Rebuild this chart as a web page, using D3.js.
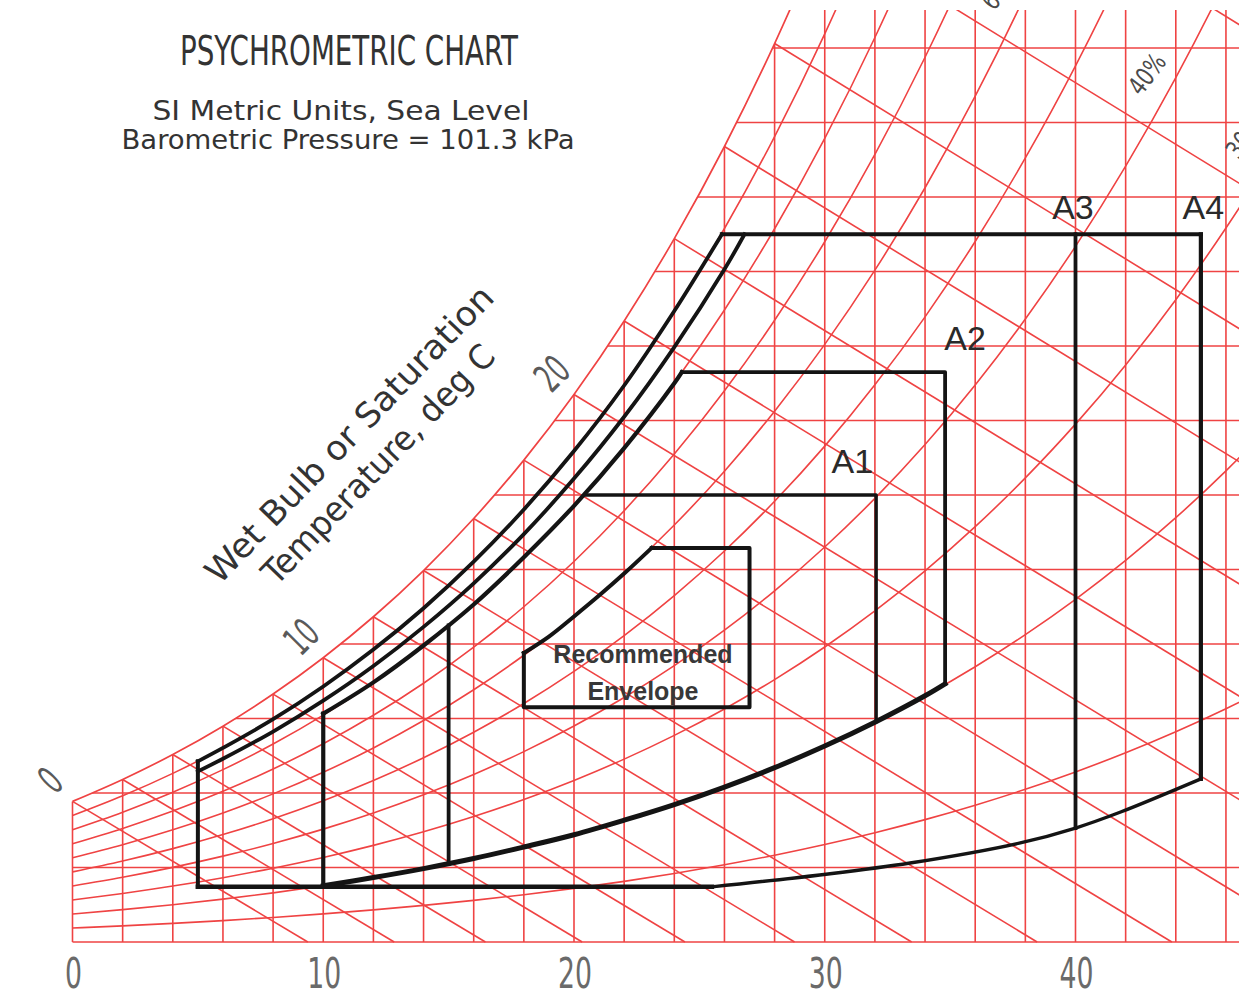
<!DOCTYPE html>
<html>
<head>
<meta charset="utf-8">
<script src="https://cdn.jsdelivr.net/npm/d3@7"></script>
<style>
  body { margin: 0; background: #fff; }
  svg { display: block; }
</style>
</head>
<body>
<svg id="chart"></svg>
<script>
const P_ATM = 101.325; // kPa, sea level

// saturation pressure of water (kPa) at 2 degC steps
const satTemps = [0, 2, 4, 6, 8, 10, 12, 14, 16, 18, 20, 22, 24, 26, 28, 30, 32, 34, 36, 38, 40, 42, 44, 46, 48, 50];
const satPressure = [0.6112, 0.7060, 0.8135, 0.9353, 1.0729, 1.2282, 1.4028, 1.5990, 1.8188, 2.0647, 2.3392, 2.6452, 2.9856,
                     3.3637, 3.7828, 4.2467, 4.7592, 5.3247, 5.9479, 6.6336, 7.3844, 8.2090, 9.1118, 10.0983, 11.1740, 12.3440];

const gridTemps = [0, 2, 4, 6, 8, 10, 12, 14, 16, 18, 20, 22, 24, 26, 28, 30, 32, 34, 36, 38, 40, 42, 44, 46];
const gridHumidity = [0, 2, 4, 6, 8, 10, 12, 14, 16, 18, 20, 22, 24];   // g/kg
const rhLevels = [10, 20, 30, 40, 50, 60, 70, 80, 90];
const wetBulbTemps = [0, 2, 4, 6, 8, 10, 12, 14, 16, 18, 20, 22, 24, 26, 28, 30, 32, 34];
const dryBulbTicks = [0, 10, 20, 30, 40];
const wetBulbLabels = [0, 10, 20];
const rhLabelText = ["60%", "40%", "30%"];
const rhLabelAt = [[37.0, 25.6], [42.85, 23.3], [46.75, 21.6]];   // [degC, g/kg]

// envelopes, [dry bulb degC, humidity ratio g/kg]
const recCurve = [[18, 7.76], [19, 8.2], [20, 8.74], [21, 9.3], [22, 9.89], [23.1, 10.58]];
const recBox = [[23.1, 10.58], [27, 10.58], [27, 6.3], [18, 6.3], [18, 7.76]];
const a1Left = [[15, 2.1], [15, 8.5]];
const a1Top = [[20.45, 12.0], [32.05, 12.0], [32.05, 5.92]];
const a2Left = [[10, 1.51], [10, 6.13]];
const a2Top = [[24.3, 15.3], [34.8, 15.3], [34.8, 6.93]];
const rh80Edge = [[10, 6.13], [12, 6.97], [14, 7.96], [16, 9.06], [18, 10.33], [20, 11.71], [22, 13.26], [24, 15.0], [24.3, 15.3]];
const rh20Edge = [[10, 1.51], [12, 1.73], [14, 1.97], [16, 2.24], [18, 2.55], [20, 2.88], [22, 3.27], [24, 3.69],
                  [26, 4.16], [28, 4.68], [30, 5.26], [32, 5.9], [34, 6.61], [34.8, 6.93]];
const a4Upper = [[5, 4.85], [6, 5.21], [8, 5.98], [10, 6.86], [12, 7.85], [14, 8.96], [16, 10.21], [18, 11.61],
                 [20, 13.18], [22, 14.94], [24, 16.94], [25.9, 19.0]];
const a3Upper = [[5, 4.58], [6, 4.92], [8, 5.65], [10, 6.48], [12, 7.41], [14, 8.46], [16, 9.63], [18, 10.95],
                 [20, 12.44], [22, 14.1], [24, 15.97], [26, 18.06], [26.8, 19.0]];
const a34Left = [[5, 1.48], [5, 4.85]];
const a34Top = [[25.9, 19.0], [45, 19.0]];
const a34Floor = [[5, 1.48], [25.5, 1.48]];
const a34Rise = [[25.5, 1.48], [29.8, 1.8], [33.4, 2.12], [37.8, 2.66], [40, 3.06], [41.8, 3.49], [45, 4.38]];
const a3Right = [[40, 19.0], [40, 3.06]];
const a4Right = [[45, 19.0], [45, 4.38]];

const classNames = ["A1", "A2", "A3", "A4"];
const classAt = [[31.1, 12.6], [35.6, 15.9], [39.9, 19.4], [45.1, 19.4]];

const RED = "#ef4343";
const INK = "#141414";

const svg = d3.select("#chart").attr("width", 1239).attr("height", 997);
const defs = svg.append("defs");

const x = d3.scaleLinear().domain([0, 40]).range([72.5, 1075.5]);
const y = d3.scaleLinear().domain([0, 24]).range([942, 48]);

// humidity ratio, g/kg
const hr = (ps, phi) => 621.945 * phi * ps / (P_ATM - phi * ps);
const satPoints = satTemps.map((t, i) => [t, hr(satPressure[i], 1)]);

const straight = d3.line().x(d => x(d[0])).y(d => y(d[1]));
const smooth = d3.line().x(d => x(d[0])).y(d => y(d[1])).curve(d3.curveMonotoneX);
const spline = d3.line().x(d => x(d[0])).y(d => y(d[1])).curve(d3.curveCatmullRom.alpha(0.5));

defs.append("clipPath").attr("id", "plot-clip")
  .append("rect")
  .attr("x", x(0) - 3).attr("y", 10)
  .attr("width", 1239).attr("height", y(0) + 3 - 10);

const satClip = defs.append("clipPath").attr("id", "sat-clip");
satClip.append("path")
  .attr("d", d3.area().x(d => x(d[0])).y0(y(0) + 2).y1(d => y(d[1])).curve(d3.curveMonotoneX)(satPoints));
satClip.append("rect")
  .attr("x", x(0) - 2).attr("y", y(satPoints[0][1]))
  .attr("width", 3).attr("height", y(0) - y(satPoints[0][1]) + 2);

const plot = svg.append("g").attr("clip-path", "url(#plot-clip)");
const grid = plot.append("g").attr("clip-path", "url(#sat-clip)")
  .attr("fill", "none").attr("stroke", RED).attr("stroke-width", 1.6);

// dry bulb verticals
grid.selectAll("line.db")
  .data(gridTemps)
  .join("line")
  .attr("class", "db")
  .attr("x1", d => x(d)).attr("x2", d => x(d))
  .attr("y1", y(0)).attr("y2", y(40));

// humidity ratio horizontals
grid.selectAll("line.hr")
  .data(gridHumidity)
  .join("line")
  .attr("class", "hr")
  .attr("x1", x(0)).attr("x2", x(50))
  .attr("y1", d => y(d)).attr("y2", d => y(d));

// relative humidity curves
grid.selectAll("path.rh")
  .data(rhLevels)
  .join("path")
  .attr("class", "rh")
  .attr("d", rh => smooth(satTemps.map((t, i) => [t, hr(satPressure[i], rh / 100)])));

// wet bulb lines: from saturation down to W = 0
grid.selectAll("path.wb")
  .data(wetBulbTemps)
  .join("path")
  .attr("class", "wb")
  .attr("d", twb => {
    const ws = hr(satPressure[satTemps.indexOf(twb)], 1);
    const t0 = twb + (2501 - 2.326 * twb) * (ws / 1000) / 1.006;
    return straight([[twb, ws], [t0, 0]]);
  });

// saturation curve
plot.append("path")
  .attr("d", smooth(satPoints))
  .attr("fill", "none").attr("stroke", RED).attr("stroke-width", 1.7);

// envelopes
const envelopeLines = [
  { pts: rh20Edge, path: spline, w: 5 },
  { pts: a34Floor, path: straight, w: 4.5 },
  { pts: a34Rise, path: spline, w: 3.4 },
  { pts: a34Left, path: straight, w: 4 },
  { pts: a4Upper, path: spline, w: 3.8 },
  { pts: a3Upper, path: spline, w: 3.8 },
  { pts: a34Top, path: straight, w: 4.2 },
  { pts: a3Right, path: straight, w: 3.8 },
  { pts: a4Right, path: straight, w: 4.2 },
  { pts: a2Left, path: straight, w: 4.2 },
  { pts: rh80Edge, path: spline, w: 4.2 },
  { pts: a2Top, path: straight, w: 3.8 },
  { pts: a1Left, path: straight, w: 3.8 },
  { pts: a1Top, path: straight, w: 3.4 },
  { pts: recCurve, path: spline, w: 4 },
  { pts: recBox, path: straight, w: 4 }
];

svg.append("g")
  .attr("fill", "none").attr("stroke", INK)
  .attr("stroke-linejoin", "round").attr("stroke-linecap", "square")
  .selectAll("path")
  .data(envelopeLines)
  .join("path")
  .attr("d", d => d.path(d.pts))
  .attr("stroke-width", d => d.w);

// text
const CAD = "'DejaVu Sans Condensed', 'DejaVu Sans', sans-serif";

svg.append("g")
  .selectAll("text")
  .data(dryBulbTicks)
  .join("text")
  .attr("x", d => x(d) + 1).attr("y", 988)
  .attr("text-anchor", "middle")
  .attr("font-family", CAD).attr("font-size", 43).attr("fill", "#6a6a6a")
  .attr("textLength", d => String(d).length * 17).attr("lengthAdjust", "spacingAndGlyphs")
  .text(d => d);

svg.append("g")
  .selectAll("text")
  .data(wetBulbLabels)
  .join("text")
  .attr("transform", d => {
    const ws = hr(satPressure[satTemps.indexOf(d)], 1);
    return `translate(${x(d) - 22},${y(ws) - 21}) rotate(-45)`;
  })
  .attr("text-anchor", "middle").attr("dominant-baseline", "central")
  .attr("font-family", CAD).attr("font-size", 40).attr("fill", "#5a5a5a")
  .attr("textLength", d => String(d).length * 15).attr("lengthAdjust", "spacingAndGlyphs")
  .text(d => d);

svg.append("g")
  .selectAll("text")
  .data(rhLabelText)
  .join("text")
  .attr("transform", (d, i) => `translate(${x(rhLabelAt[i][0])},${y(rhLabelAt[i][1])}) rotate(-53)`)
  .attr("text-anchor", "middle").attr("dominant-baseline", "central")
  .attr("font-family", CAD).attr("font-size", 26).attr("fill", "#4a4a4a")
  .attr("textLength", 44).attr("lengthAdjust", "spacingAndGlyphs")
  .text(d => d);

const axisTitle = svg.append("g")
  .attr("font-family", CAD).attr("font-size", 34).attr("fill", "#333")
  .attr("text-anchor", "middle").attr("dominant-baseline", "central");
axisTitle.append("text")
  .attr("transform", "translate(349,434) rotate(-46)")
  .attr("textLength", 398).attr("lengthAdjust", "spacingAndGlyphs")
  .text("Wet Bulb or Saturation");
axisTitle.append("text")
  .attr("transform", "translate(378,464) rotate(-46)")
  .attr("textLength", 318).attr("lengthAdjust", "spacingAndGlyphs")
  .text("Temperature, deg C");

const header = svg.append("g")
  .attr("font-family", CAD).attr("fill", "#333").attr("text-anchor", "middle");
header.append("text")
  .attr("x", 349).attr("y", 65).attr("font-size", 41)
  .attr("textLength", 338).attr("lengthAdjust", "spacingAndGlyphs")
  .text("PSYCHROMETRIC CHART");
header.append("text")
  .attr("x", 341).attr("y", 120).attr("font-size", 27)
  .attr("textLength", 377).attr("lengthAdjust", "spacingAndGlyphs")
  .text("SI Metric Units, Sea Level");
header.append("text")
  .attr("x", 348).attr("y", 149).attr("font-size", 27)
  .attr("textLength", 453).attr("lengthAdjust", "spacingAndGlyphs")
  .text("Barometric Pressure = 101.3 kPa");

svg.append("g")
  .selectAll("text")
  .data(classNames)
  .join("text")
  .attr("x", (d, i) => x(classAt[i][0])).attr("y", (d, i) => y(classAt[i][1]))
  .attr("text-anchor", "middle")
  .attr("font-family", "'Liberation Sans', Arial, sans-serif").attr("font-size", 34).attr("fill", "#2a2a2a")
  .text(d => d);

const rec = svg.append("g")
  .attr("font-family", "'Liberation Sans', Arial, sans-serif").attr("font-weight", "bold")
  .attr("font-size", 25).attr("fill", "#383838").attr("text-anchor", "middle");
rec.append("text").attr("x", x(22.75)).attr("y", 663).text("Recommended");
rec.append("text").attr("x", x(22.75)).attr("y", 700).text("Envelope");
</script>
</body>
</html>
